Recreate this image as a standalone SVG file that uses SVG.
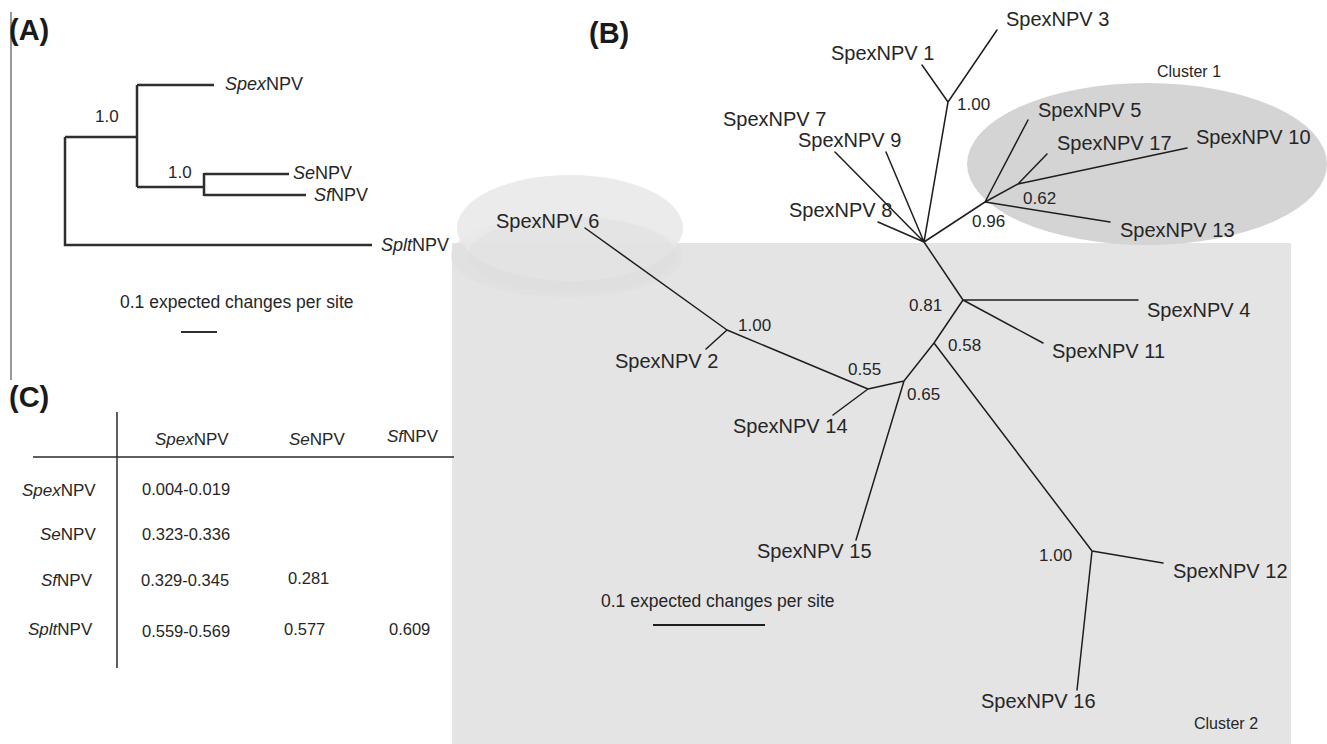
<svg xmlns="http://www.w3.org/2000/svg" width="1327" height="744" viewBox="0 0 1327 744">
<style>
text{font-family:"Liberation Sans",Arial,Helvetica,sans-serif;fill:#262626}
.hd{font-size:29px;font-weight:bold;fill:#1a1a1a}
.la{font-size:18px}
.lb{font-size:20px}
.lc{font-size:17px}
.num{font-size:17px}
.numc{font-size:16.5px}
.cl{font-size:16px}
.sc{font-size:17.5px}
.i{font-style:italic}
.ta{fill:none;stroke:#2e2e2e;stroke-width:2.5;stroke-linejoin:miter;stroke-linecap:butt}
.tb{fill:none;stroke:#1e1e1e;stroke-width:1.5;stroke-linecap:round}
.rule{fill:none;stroke:#2a2a2a;stroke-width:1.5}
</style>
<rect width="1327" height="744" fill="#ffffff"/>

<!-- background shapes of panel B -->
<g id="cluster2-bg">
<rect x="452" y="243" width="839" height="501" fill="#e4e4e4"/>
</g>
<g id="cluster6-bg">
<ellipse cx="567" cy="256" rx="116" ry="41" fill="#dedede" opacity="0.55"/>
<ellipse cx="570" cy="228" rx="113" ry="53" fill="#e8e8e8" opacity="0.85"/>
<ellipse cx="572" cy="255" rx="104" ry="38" fill="#dddddd" opacity="0.35"/>
</g>
<g id="cluster1-bg">
<ellipse cx="1147" cy="164" rx="180" ry="81" fill="#d4d4d4"/>
</g>

<!-- Panel A -->
<g id="panelA">
<line x1="11" y1="12" x2="11" y2="380" stroke="#777" stroke-width="1.5"/>
<text class="hd" x="9" y="40">(A)</text>
<g id="treeA-connectors">
<path class="ta" d="M65,137 V245 H372 M65,137 H137 M137,85 V187 M137,85 H214 M137,187 H204 M204,173 V196 M204,174 H289 M204,195 H306"/>
</g>
<g id="A-spex"><text class="la" x="225" y="90"><tspan class="i">Spex</tspan>NPV</text></g>
<g id="A-se"><text class="la" x="293" y="179"><tspan class="i">Se</tspan>NPV</text></g>
<g id="A-sf"><text class="la" x="314" y="201"><tspan class="i">Sf</tspan>NPV</text></g>
<g id="A-splt"><text class="la" x="381" y="251"><tspan class="i">Splt</tspan>NPV</text></g>
<text class="num" x="95" y="122">1.0</text>
<text class="num" x="168" y="178">1.0</text>
<text class="sc" x="120" y="308">0.1 expected changes per site</text>
<line x1="181" y1="332" x2="217" y2="332" stroke="#2e2e2e" stroke-width="2"/>
</g>

<!-- Panel C -->
<g id="panelC">
<text class="hd" x="9" y="407">(C)</text>
<line class="rule" x1="117" y1="412" x2="117" y2="668"/>
<line class="rule" x1="33" y1="457" x2="454" y2="457"/>
<text class="lc" x="155" y="445"><tspan class="i">Spex</tspan>NPV</text>
<text class="lc" x="289" y="445"><tspan class="i">Se</tspan>NPV</text>
<text class="lc" x="387" y="442"><tspan class="i">Sf</tspan>NPV</text>
<text class="lc" x="22" y="496"><tspan class="i">Spex</tspan>NPV</text>
<text class="lc" x="40" y="540"><tspan class="i">Se</tspan>NPV</text>
<text class="lc" x="41" y="586"><tspan class="i">Sf</tspan>NPV</text>
<text class="lc" x="28" y="635"><tspan class="i">Splt</tspan>NPV</text>
<text class="numc" x="142" y="495">0.004-0.019</text>
<text class="numc" x="142" y="540">0.323-0.336</text>
<text class="numc" x="141" y="586">0.329-0.345</text>
<text class="numc" x="288" y="584">0.281</text>
<text class="numc" x="142" y="637">0.559-0.569</text>
<text class="numc" x="284" y="635">0.577</text>
<text class="numc" x="389" y="635">0.609</text>
</g>

<!-- Panel B -->
<text class="hd" x="589" y="43">(B)</text>
<g id="treeB-connectors">
<path class="tb" d="M924,242 L948,102 M948,102 L922,65 M948,102 L997,30
M924,242 L835,152 M924,242 L886,152 M924,242 L878,222
M924,242 L985,202 M985,202 L1028,120 M985,202 L1018,184 M1018,184 L1047,154 M1018,184 L1187,148 M985,202 L1110,222
M924,242 L963,300 M963,300 L1138,300 M963,300 L1043,343 M963,300 L934,343
M934,343 L904,381 M934,343 L1092,551 M1092,551 L1163,563 M1092,551 L1077,690
M904,381 L856,540 M904,381 L868,389 M868,389 L833,415 M868,389 L727,330 M727,330 L706,349 M727,330 L585,228"/>
</g>
<g id="B-1"><text class="lb" x="831" y="60">SpexNPV 1</text></g>
<g id="B-2"><text class="lb" x="615" y="368">SpexNPV 2</text></g>
<g id="B-3"><text class="lb" x="1006" y="26">SpexNPV 3</text></g>
<g id="B-4"><text class="lb" x="1147" y="317">SpexNPV 4</text></g>
<g id="B-5"><text class="lb" x="1038" y="117">SpexNPV 5</text></g>
<g id="B-6"><text class="lb" x="496" y="228">SpexNPV 6</text></g>
<g id="B-7"><text class="lb" x="723" y="126">SpexNPV 7</text></g>
<g id="B-8"><text class="lb" x="789" y="217">SpexNPV 8</text></g>
<g id="B-9"><text class="lb" x="798" y="147">SpexNPV 9</text></g>
<g id="B-10"><text class="lb" x="1196" y="144">SpexNPV 10</text></g>
<g id="B-11"><text class="lb" x="1052" y="358">SpexNPV 11</text></g>
<g id="B-12"><text class="lb" x="1173" y="578">SpexNPV 12</text></g>
<g id="B-13"><text class="lb" x="1120" y="237">SpexNPV 13</text></g>
<g id="B-14"><text class="lb" x="733" y="433">SpexNPV 14</text></g>
<g id="B-15"><text class="lb" x="757" y="558">SpexNPV 15</text></g>
<g id="B-16"><text class="lb" x="981" y="708">SpexNPV 16</text></g>
<g id="B-17"><text class="lb" x="1057" y="150">SpexNPV 17</text></g>
<g id="B-support">
<text class="num" x="957" y="110">1.00</text>
<text class="num" x="972" y="227">0.96</text>
<text class="num" x="1023" y="204">0.62</text>
<text class="num" x="909" y="311">0.81</text>
<text class="num" x="948" y="351">0.58</text>
<text class="num" x="907" y="400">0.65</text>
<text class="num" x="848" y="375">0.55</text>
<text class="num" x="738" y="331">1.00</text>
<text class="num" x="1039" y="561">1.00</text>
</g>
<text class="cl" x="1157" y="77">Cluster 1</text>
<text class="cl" x="1194" y="729">Cluster 2</text>
<g id="B-scale">
<text class="sc" x="601" y="607">0.1 expected changes per site</text>
<line x1="653" y1="625" x2="765" y2="625" stroke="#1e1e1e" stroke-width="2"/>
</g>
</svg>
